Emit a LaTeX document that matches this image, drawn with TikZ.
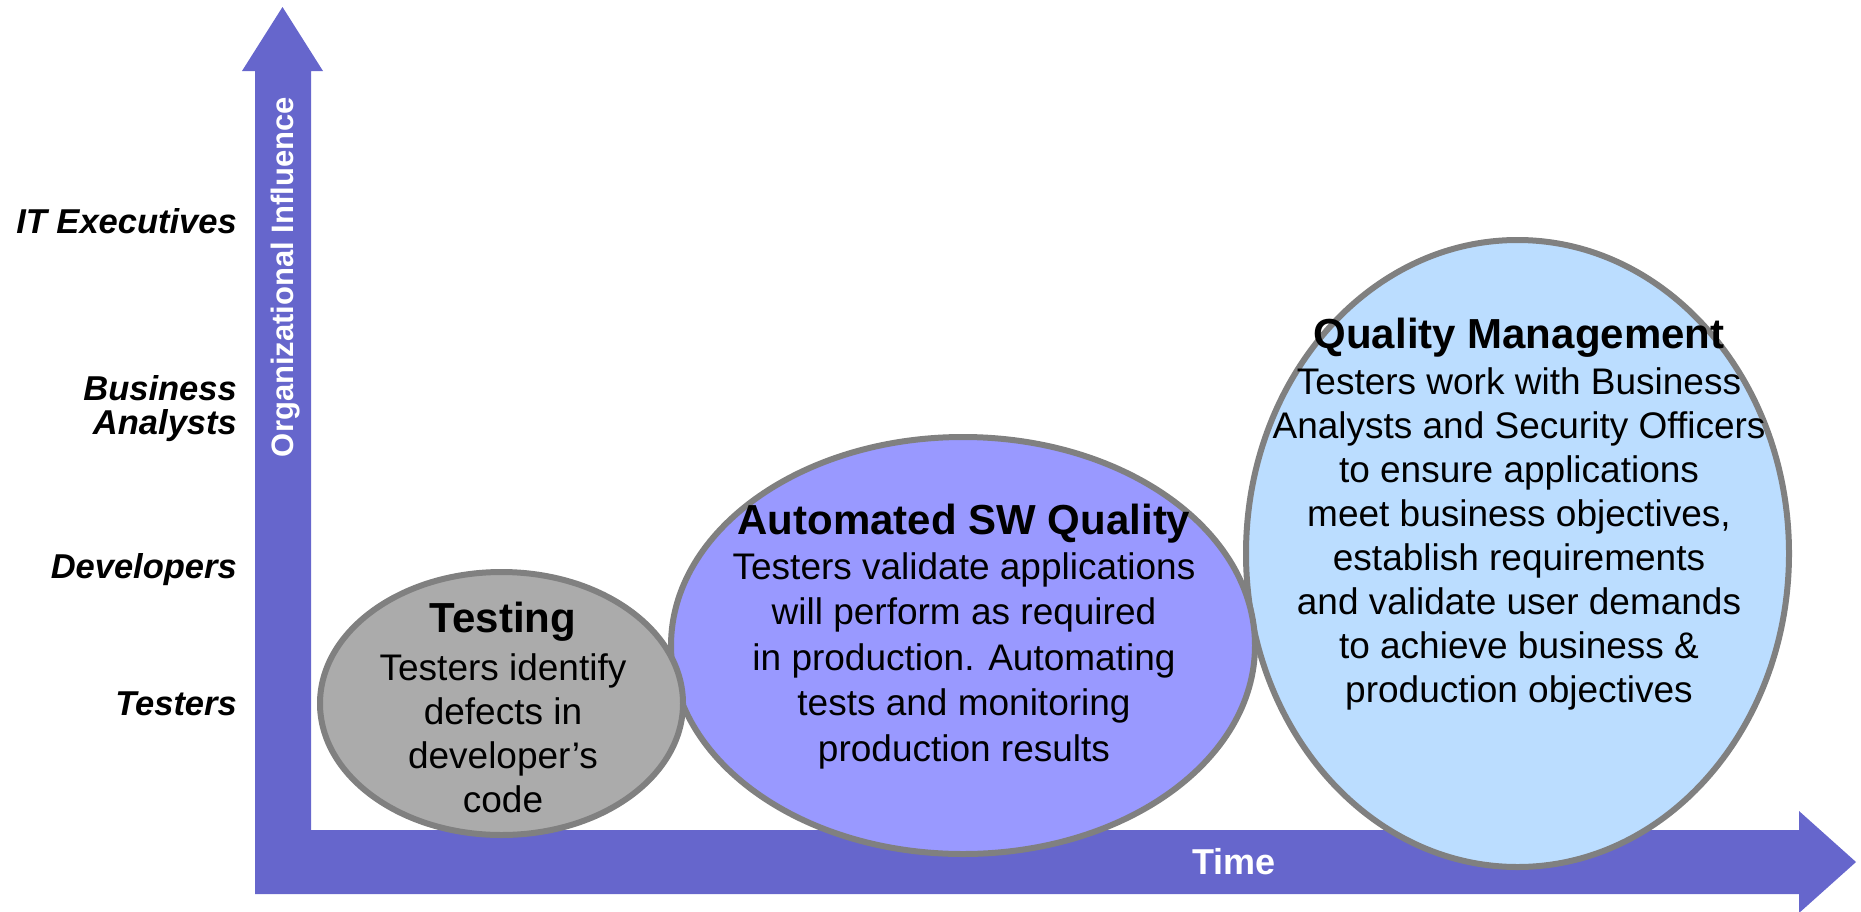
\documentclass[tikz,border=0pt]{standalone}
\usepackage{fontspec}
\setmainfont{Liberation Sans}
\usetikzlibrary{shapes.geometric}
\definecolor{arrowblue}{HTML}{6666CC}
\definecolor{ringgray}{HTML}{808080}
\definecolor{fillgray}{HTML}{ABABAB}
\definecolor{fillblue}{HTML}{9999FF}
\definecolor{filllight}{HTML}{BBDDFF}
\begin{document}
\begin{tikzpicture}[x=1pt,y=-1pt,
  bubble/.style={ellipse, draw=ringgray, line width=6pt, inner sep=0pt, outer sep=0pt},
  titletext/.style={font=\fontsize{42}{48}\selectfont\bfseries, anchor=base, inner sep=0pt},
  bodytext/.style={font=\fontsize{37}{44}\selectfont, align=center, anchor=north, inner sep=0pt},
  leveltext/.style={font=\fontsize{34.5}{34}\selectfont\bfseries\itshape, inner sep=0pt, align=right},
  axistext/.style={text=white, inner sep=0pt}]
\useasboundingbox (0,0) rectangle (1861,911);
% axes
\fill[arrowblue] (255,878) -- (255,71) -- (242,71) -- (282.5,7) -- (323,71) -- (311,71) -- (311,878) -- cycle;
\fill[arrowblue] (255,830) -- (1799,830) -- (1799,811) -- (1856,862) -- (1799,913) -- (1799,894) -- (255,894) -- cycle;
\node[axistext, font=\fontsize{31}{34}\selectfont\bfseries, rotate=90] (yaxis) at (286,277) {Organizational Influence};
\node[axistext, font=\fontsize{36}{40}\selectfont\bfseries] (xaxis) at (1234,862) {Time};
% level labels
\node[leveltext, anchor=base east] (itexec) at (237,233) {IT Executives};
\node[leveltext, anchor=east] (busan) at (237,409) {Business\\Analysts};
\node[leveltext, anchor=base east] (devs) at (237,578) {Developers};
\node[leveltext, anchor=base east] (testers) at (237,715) {Testers};
% bubbles
\node[bubble, fill=filllight, minimum width=543pt, minimum height=627pt] (qm) at (1517.5,553.5) {};
\node[bubble, fill=fillblue, minimum width=584pt, minimum height=417pt] (asq) at (963,645.5) {};
\node[bubble, fill=fillgray, minimum width=363pt, minimum height=263pt] (tst) at (501.5,703.5) {};
% texts
\node[titletext] (tsttitle) at (503,632) {Testing};
\node[bodytext] (tstbody) at (503,653.4) {Testers identify\\defects in\\developer’s\\code};
\node[titletext] (asqtitle) at (964,534) {Automated SW Quality};
\node[bodytext, font=\fontsize{37}{45.5}\selectfont] (asqbody) at (964,552.4) {Testers validate applications\\will perform as required\\in production. Automating\\tests and monitoring\\production results};
\node[titletext] (qmtitle) at (1519,348) {Quality Management};
\node[bodytext] (qmbody) at (1519,367.4) {Testers work with Business\\Analysts and Security Officers\\to ensure applications\\meet business objectives,\\establish requirements\\and validate user demands\\to achieve business \&\\production objectives};
\end{tikzpicture}
\end{document}
